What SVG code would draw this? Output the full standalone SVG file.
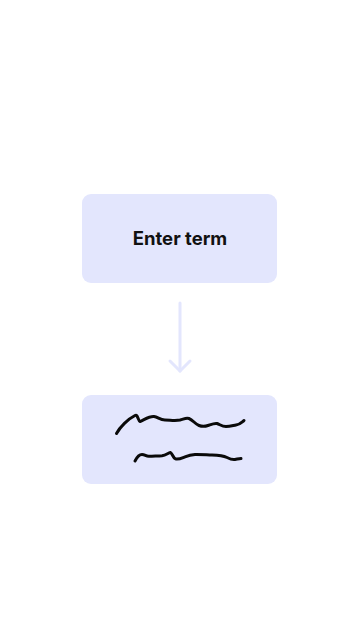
<svg xmlns="http://www.w3.org/2000/svg" width="360" height="640" viewBox="0 0 360 640">
  <style>
    .card { fill: #E3E6FD; }
    .label { font-family: Inter, Roboto, "Liberation Sans", sans-serif; font-weight: 700; font-size: 18.5px; fill: #111111; }
    .flow { stroke: #E3E6FD; stroke-width: 3; fill: none; stroke-linecap: round; stroke-linejoin: round; }
    .ink { stroke: #0A0A0A; stroke-width: 3; fill: none; stroke-linecap: round; stroke-linejoin: round; }
  </style>
  <rect width="360" height="640" fill="#FFFFFF"/>

  <g id="enter-term">
    <rect class="card" x="82" y="194" width="195" height="89" rx="9"/>
    <text class="label" x="180" y="245" text-anchor="middle">Enter term</text>
  </g>

  <g id="connectors">
    <path class="flow" d="M180 303 V371"/>
    <path class="flow" d="M170 361 L180 371 L190 361"/>
  </g>

  <g id="handwritten-result">
    <rect class="card" x="82" y="395" width="195" height="89" rx="9"/>
    <!-- scribbled first line -->
    <path class="ink" d="M116.5 433.5 C120 427 128 419 135 415.5 C138 414 138 421 140 421.5 C144 420 149 416 154 416.5 C158 417 160 420 165 420 C170 420 175 421 180 420 C184 419 186 417.5 189 418.5 C193 420 195 424 199 425.5 C203 427 205 426.5 208 425.5 C211 424.5 214 423 217 423.5 C220 424.5 222 426.5 226 426.5 C230 426.5 233 425.5 236 425 C240 424.5 242 422 244 420.5"/>
    <!-- scribbled second line -->
    <path class="ink" d="M135 461 C137 457 139 454.5 142 454.5 C145 454.5 146 456.5 149 456.3 C154 456 158 456 162 455.7 C166 455.3 168 453 170.5 452.5 C172.5 453.5 173 458.5 176 459 C179 459.5 182 458 185 456.8 C188 455.6 191 454.7 195 454.5 C200 454.4 206 454.8 212 455 C218 455.2 223 455.6 227 457.5 C230 459 232 460 235 459.5 C237 459.2 239 458.6 241 458.5"/>
  </g>
</svg>
